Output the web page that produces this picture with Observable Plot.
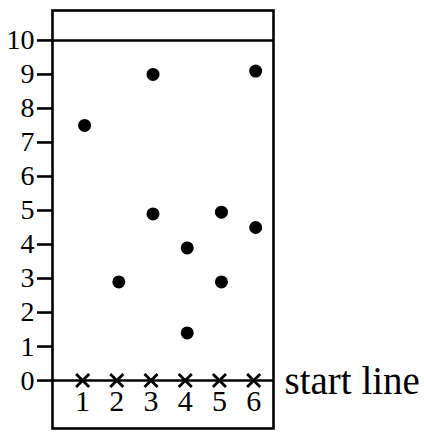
<!DOCTYPE html>
<html>
<head>
<meta charset="utf-8">
<script src="https://cdn.jsdelivr.net/npm/d3@7"></script>
<script src="https://cdn.jsdelivr.net/npm/@observablehq/plot@0.6"></script>
<style>
  html, body { margin: 0; padding: 0; background: #fff; }
  #chart svg { display: block; }
</style>
</head>
<body>
<div id="chart"></div>
<script>
const lanes = [1, 2, 3, 4, 5, 6];
const yTicks = [0, 1, 2, 3, 4, 5, 6, 7, 8, 9, 10];
const pointLane = [1, 2, 3, 3, 4, 4, 5, 5, 6, 6];
const pointValue = [7.5, 2.9, 9.0, 4.9, 3.9, 1.4, 4.95, 2.9, 9.1, 4.5];
const startValue = 0;
const finishValue = 10;
const startLabel = "start line";

const points = pointLane.map((x, i) => ({x, y: pointValue[i]}));
const crosses = lanes.map(x => ({x, y: startValue}));

const font = "'Liberation Serif', 'DejaVu Serif', serif";

const chart = Plot.plot({
  width: 424,
  height: 437,
  marginLeft: 52,
  marginRight: 151,
  marginTop: 10,
  marginBottom: 9,
  style: {fontFamily: font, color: "black", background: "white"},
  x: {domain: [0.12, 6.58], axis: null},
  y: {domain: [-1.41, 10.88], axis: null},
  marks: [
    Plot.frame({stroke: "black", strokeWidth: 2.6}),
    Plot.axisY({ticks: yTicks, tickSize: 15, strokeWidth: 2.6, label: null, tickFormat: () => ""}),
    Plot.text(yTicks, {y: d => d, frameAnchor: "left", textAnchor: "end", dx: -18, text: d => String(d), fontSize: 28, fill: "black"}),
    Plot.ruleY([startValue, finishValue], {stroke: "black", strokeWidth: 2.6}),
    Plot.dot(crosses, {x: "x", y: "y", symbol: "times", r: 6, stroke: "black", strokeWidth: 2.8}),
    Plot.dot(points, {x: "x", y: "y", dx: 2, r: 6.5, fill: "black", stroke: "none"}),
    Plot.text(lanes, {x: d => d, frameAnchor: "bottom", dy: -18, text: d => String(d), fontSize: 30, fill: "black"}),
    Plot.text([startLabel], {y: [startValue], frameAnchor: "right", textAnchor: "start", dx: 11, dy: 1, text: d => d, fontSize: 39, fill: "black"})
  ]
});
document.getElementById("chart").append(chart);
</script>
</body>
</html>
